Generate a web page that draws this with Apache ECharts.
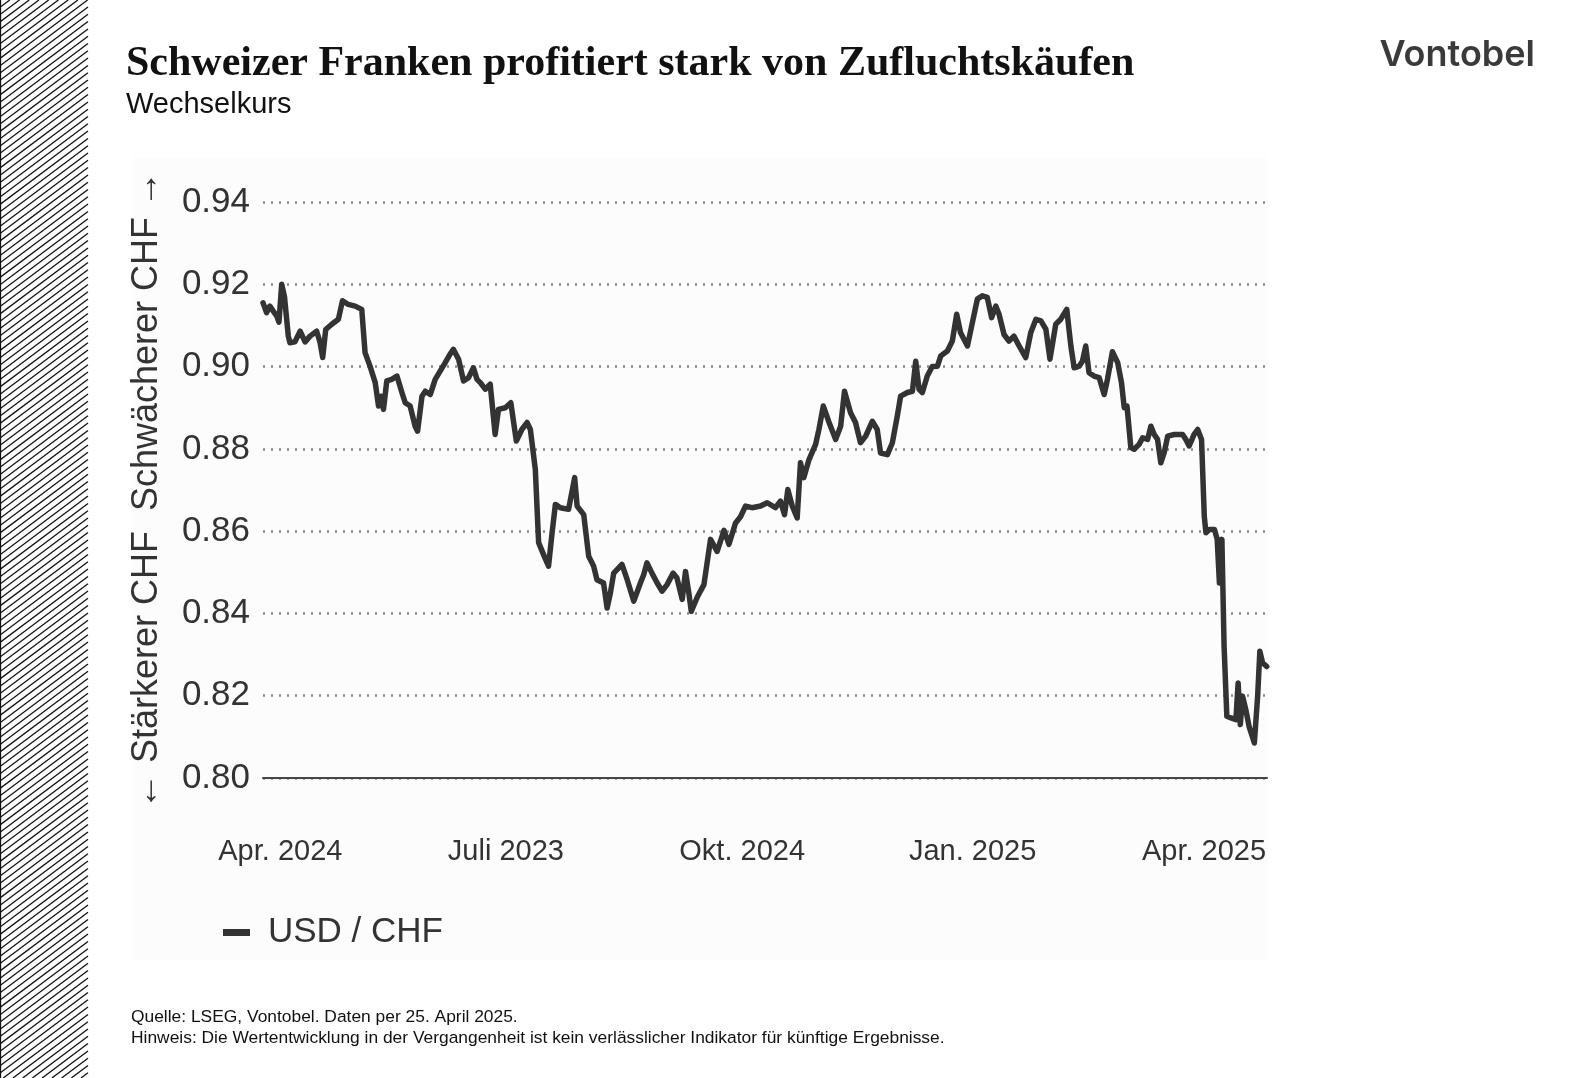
<!DOCTYPE html>
<html>
<head>
<meta charset="utf-8">
<script src="https://cdn.jsdelivr.net/npm/echarts@6/dist/echarts.min.js"></script>
<style>
  html, body { margin: 0; padding: 0; background: #ffffff; }
  #chart { width: 1576px; height: 1078px; }
</style>
</head>
<body>
<div id="chart"></div>
<script>
// Days since 25 April 2024 and USD/CHF rates
const days = [
  0, 1.3, 2.5, 3.7, 5.0, 5.8, 6.8, 7.8, 9.2, 9.8, 11.6, 13.5, 15.3, 17.1, 19.5, 20.7, 21.7, 22.8, 25.0, 27.4,
  28.9, 31.0, 33.5, 35.9, 37.1, 38.9, 40.8, 42.0, 42.9, 43.8, 45.0, 46.8, 48.7, 50.5, 51.7, 53.5, 55.3, 56.2, 57.8, 59.0,
  60.8, 62.6, 64.4, 66.2, 68.0, 69.2, 71.1, 72.9, 74.7, 76.5, 77.8, 79.0, 80.8, 82.6, 84.4, 85.6, 88.1, 90.1, 92.1, 94.1,
  96.0, 97.2, 99.0, 100.2, 102.0, 103.8, 105.1, 106.3, 108.1, 111.1, 113.3, 114.2, 116.6, 118.4, 120.2, 121.4, 123.8, 125.1, 126.3, 127.5,
  130.5, 132.4, 134.8, 137.2, 138.4, 139.6, 141.4, 143.3, 145.1, 146.9, 149.1, 150.5, 152.4, 153.6, 154.8, 155.7, 157.9, 160.3, 162.7, 165.1,
  167.6, 169.4, 171.8, 173.6, 175.4, 177.8, 180.9, 183.3, 186.3, 188.1, 189.6, 190.8, 192.4, 194.2, 195.4, 196.6, 198.5, 200.9, 202.1, 203.7,
  205.8, 208.2, 210.0, 211.4, 213.6, 215.4, 217.2, 219.1, 221.5, 223.3, 224.5, 227.0, 228.8, 230.6, 231.8, 234.3, 236.1, 237.3, 238.5, 239.7,
  241.5, 243.3, 245.2, 246.4, 248.8, 250.6, 252.2, 253.6, 256.1, 257.9, 259.7, 261.5, 263.3, 264.9, 266.4, 267.6, 269.4, 271.2, 273.0, 274.9,
  277.3, 279.1, 281.0, 282.8, 284.6, 286.1, 288.2, 290.0, 292.2, 293.7, 294.9, 296.7, 297.9, 299.1, 300.3, 302.1, 304.0, 305.8, 307.0, 308.8,
  310.7, 312.1, 313.1, 314.1, 315.5, 316.7, 318.5, 319.8, 321.6, 322.8, 324.0, 325.2, 326.4, 327.6, 328.9, 331.3, 334.3, 335.5, 336.7, 338.5,
  339.8, 341.2, 342.2, 342.8, 344.0, 345.9, 346.9, 347.7, 348.6, 349.4, 350.4, 351.9, 353.7, 354.5, 355.3, 356.1, 357.3, 358.5, 360.4, 361.6,
  362.4, 363.4, 364.9
];
const usdChf = [
  0.9155, 0.9131, 0.9147, 0.9135, 0.9123, 0.9108, 0.9200, 0.9170, 0.9074, 0.9058, 0.9060, 0.9086, 0.9060, 0.9074, 0.9086, 0.9060, 0.9022, 0.9090, 0.9103, 0.9115,
  0.9160, 0.9151, 0.9147, 0.9139, 0.9034, 0.9001, 0.8961, 0.8904, 0.8928, 0.8896, 0.8965, 0.8969, 0.8977, 0.8937, 0.8912, 0.8904, 0.8855, 0.8843, 0.8928, 0.8940,
  0.8932, 0.8969, 0.8989, 0.9009, 0.9030, 0.9042, 0.9018, 0.8965, 0.8973, 0.8997, 0.8969, 0.8961, 0.8945, 0.8957, 0.8835, 0.8896, 0.8900, 0.8912, 0.8819, 0.8847,
  0.8864, 0.8847, 0.8750, 0.8572, 0.8543, 0.8515, 0.8596, 0.8665, 0.8657, 0.8653, 0.8730, 0.8661, 0.8640, 0.8539, 0.8515, 0.8482, 0.8474, 0.8413, 0.8450, 0.8498,
  0.8519, 0.8482, 0.8430, 0.8474, 0.8494, 0.8523, 0.8498, 0.8474, 0.8454, 0.8470, 0.8498, 0.8486, 0.8434, 0.8502, 0.8450, 0.8405, 0.8440, 0.8470, 0.8580, 0.8551,
  0.8602, 0.8568, 0.8620, 0.8635, 0.8661, 0.8657, 0.8661, 0.8669, 0.8657, 0.8673, 0.8640, 0.8701, 0.8661, 0.8632, 0.8766, 0.8730, 0.8774, 0.8811, 0.8847, 0.8904,
  0.8864, 0.8823, 0.8855, 0.8940, 0.8888, 0.8864, 0.8815, 0.8831, 0.8867, 0.8847, 0.8790, 0.8786, 0.8815, 0.8880, 0.8928, 0.8937, 0.8940, 0.9013, 0.8945, 0.8937,
  0.8977, 0.9000, 0.9001, 0.9026, 0.9038, 0.9062, 0.9127, 0.9082, 0.9050, 0.9107, 0.9164, 0.9172, 0.9168, 0.9119, 0.9147, 0.9127, 0.9078, 0.9062, 0.9074, 0.9050,
  0.9022, 0.9082, 0.9115, 0.9111, 0.9091, 0.9018, 0.9103, 0.9115, 0.9139, 0.9050, 0.8997, 0.9001, 0.9013, 0.9050, 0.8985, 0.8977, 0.8973, 0.8932, 0.8969, 0.9036,
  0.9010, 0.8961, 0.8900, 0.8904, 0.8803, 0.8799, 0.8811, 0.8827, 0.8823, 0.8855, 0.8835, 0.8823, 0.8766, 0.8790, 0.8831, 0.8835, 0.8835, 0.8823, 0.8807, 0.8835,
  0.8847, 0.8823, 0.8636, 0.8596, 0.8604, 0.8604, 0.8580, 0.8474, 0.8580, 0.8320, 0.8150, 0.8146, 0.8142, 0.8231, 0.8130, 0.8199, 0.8166, 0.8125, 0.8085, 0.8199,
  0.8308, 0.8280, 0.8271
];
const seriesName = 'USD / CHF';
const tickDays = [6.3, 88.3, 174.2, 258, 342.1];
const tickLabels = ['Apr. 2024', 'Juli 2023', 'Okt. 2024', 'Jan. 2025', 'Apr. 2025'];
const yTicks = [0.80, 0.82, 0.84, 0.86, 0.88, 0.90, 0.92, 0.94];

const titleText = 'Schweizer Franken profitiert stark von Zufluchtskäufen';
const subtitleText = 'Wechselkurs';
const yAxisName = '← Stärkerer CHF  Schwächerer CHF →';
const footer1 = 'Quelle: LSEG, Vontobel. Daten per 25. April 2025.';
const footer2 = 'Hinweis: Die Wertentwicklung in der Vergangenheit ist kein verlässlicher Indikator für künftige Ergebnisse.';

const chart = echarts.init(document.getElementById('chart'), null, { renderer: 'canvas' });

// decorative hatched strip on the left
const hatch = [];
const stripW = 88, H = 1078, slope = 0.75, gap = 7.3;
for (let c = 0; c < H + stripW * slope + gap; c += gap) {
  let x1 = Math.max(0, (c - H) / slope);
  let x2 = Math.min(stripW, c / slope);
  if (x2 <= x1) continue;
  hatch.push({
    type: 'line', silent: true,
    shape: { x1: x1, y1: c - slope * x1, x2: x2, y2: c - slope * x2 },
    style: { stroke: '#111', lineWidth: 1.3 }
  });
}
hatch.push({ type: 'line', silent: true, shape: { x1: 0.5, y1: 0, x2: 0.5, y2: H }, style: { stroke: '#111', lineWidth: 1.3 } });

const data = days.map((d, i) => [d, usdChf[i]]);

chart.setOption({
  animation: false,
  backgroundColor: '#ffffff',
  textStyle: { fontFamily: '"Liberation Sans", Arial, sans-serif' },
  graphic: [
    { type: 'rect', z: -10, silent: true, shape: { x: 132, y: 158, width: 1136, height: 802 }, style: { fill: '#fcfcfc' } },
    { type: 'group', children: hatch },
    { type: 'text', left: 126, top: 43, style: { text: titleText, font: 'bold 42px "Liberation Serif", "Times New Roman", serif', fill: '#111' } },
    { type: 'text', left: 126, top: 90, style: { text: subtitleText, font: '29px "Liberation Sans", Arial, sans-serif', fill: '#111' } },
    { type: 'text', right: 41, top: 37, style: { text: 'Vontobel', font: '600 36px Inter, "Liberation Sans", sans-serif', fill: '#3a3a3a' } },
    { type: 'text', left: 131, top: 1009, style: { text: footer1, font: '17.4px "Liberation Sans", Arial, sans-serif', fill: '#111' } },
    { type: 'text', left: 131, top: 1030, style: { text: footer2, font: '17.4px "Liberation Sans", Arial, sans-serif', fill: '#111' } }
  ],
  grid: { left: 263, right: 309, top: 202, bottom: 300, containLabel: false },
  legend: {
    data: [seriesName], left: 218, top: 910, icon: 'rect', itemWidth: 27, itemHeight: 7,
    textStyle: { fontSize: 35, color: '#333', padding: [0, 0, 0, 13] }
  },
  xAxis: {
    type: 'value', min: 0, max: 365,
    axisLine: { show: true, onZero: false, lineStyle: { color: '#444', width: 2 } },
    axisTick: { show: false },
    splitLine: { show: false },
    axisLabel: {
      customValues: tickDays,
      margin: 59, fontSize: 29, color: '#333',
      formatter: function (v) {
        const i = tickDays.indexOf(v);
        return i >= 0 ? tickLabels[i] : '';
      }
    }
  },
  yAxis: {
    type: 'value', min: yTicks[0], max: yTicks[yTicks.length - 1], interval: 0.02,
    name: yAxisName, nameLocation: 'middle', nameRotate: 90, nameGap: 98,
    nameTextStyle: { fontSize: 36, color: '#333' },
    axisLine: { show: false }, axisTick: { show: false },
    axisLabel: { fontSize: 35, color: '#333', margin: 13, formatter: v => v.toFixed(2) },
    splitLine: { show: true, lineStyle: { color: '#888', width: 2.5, type: [2, 6] } }
  },
  series: [{
    name: seriesName, type: 'line', data: data, showSymbol: false, symbol: 'none',
    lineStyle: { color: '#333', width: 5.5, join: 'round', cap: 'round' },
    itemStyle: { color: '#333' }
  }]
});
</script>
</body>
</html>
